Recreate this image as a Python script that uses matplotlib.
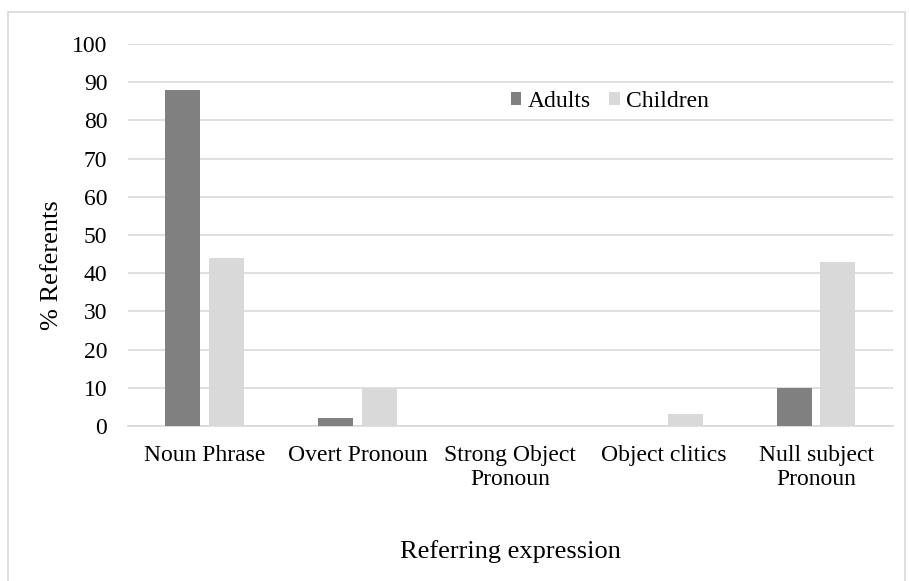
import numpy as np
import matplotlib.pyplot as plt
from matplotlib.patches import Rectangle

categories = ['Noun Phrase', 'Overt Pronoun', 'Strong Object\nPronoun',
              'Object clitics', 'Null subject\nPronoun']
adults = [88, 2, 0, 0, 10]
children = [44, 10, 0, 3, 43]

plt.rcParams['font.family'] = ['Liberation Serif', 'DejaVu Serif']

fig = plt.figure(figsize=(9.09, 5.81), dpi=100)
# light chart border, as in the Excel export
fig.add_artist(Rectangle((8 / 909, -0.05), 897 / 909, 1.05 - 12 / 581,
                         transform=fig.transFigure, fill=False,
                         edgecolor='#d9d9d9', linewidth=1.2))

ax = fig.add_axes([0.141, 0.267, 0.841, 0.657])
x = np.arange(len(categories))
w = 0.229
ax.bar(x - 0.142, adults, w, color='#808080', label='Adults', zorder=3)
ax.bar(x + 0.142, children, w, color='#d9d9d9', label='Children', zorder=3)

ax.set_xlim(-0.5, len(categories) - 0.5)
ax.set_ylim(0, 100)
ax.set_yticks(range(0, 101, 10))
ax.yaxis.grid(True, color='#d9d9d9', linewidth=1.2, zorder=0)
ax.tick_params(axis='y', length=0, labelsize=17, pad=15)
ax.tick_params(axis='x', length=0, labelsize=17, pad=14)
ax.set_xticks(x)
ax.set_xticklabels(categories, linespacing=1.15)
for s in ['top', 'right', 'left']:
    ax.spines[s].set_visible(False)
ax.spines['bottom'].set_color('#d9d9d9')
ax.spines['bottom'].set_linewidth(1.2)

ax.set_ylabel('% Referents', fontsize=19)
ax.yaxis.set_label_coords(-0.085, 0.42)
ax.set_xlabel('Referring expression', fontsize=19)
ax.xaxis.set_label_coords(0.5, -0.30)

ax.legend(loc='center', bbox_to_anchor=(0.63, 0.85), ncol=2, frameon=False,
          fontsize=17, handlelength=0.45, handleheight=0.45,
          handletextpad=0.25, columnspacing=0.8)

fig.savefig('out.png', dpi=100)
